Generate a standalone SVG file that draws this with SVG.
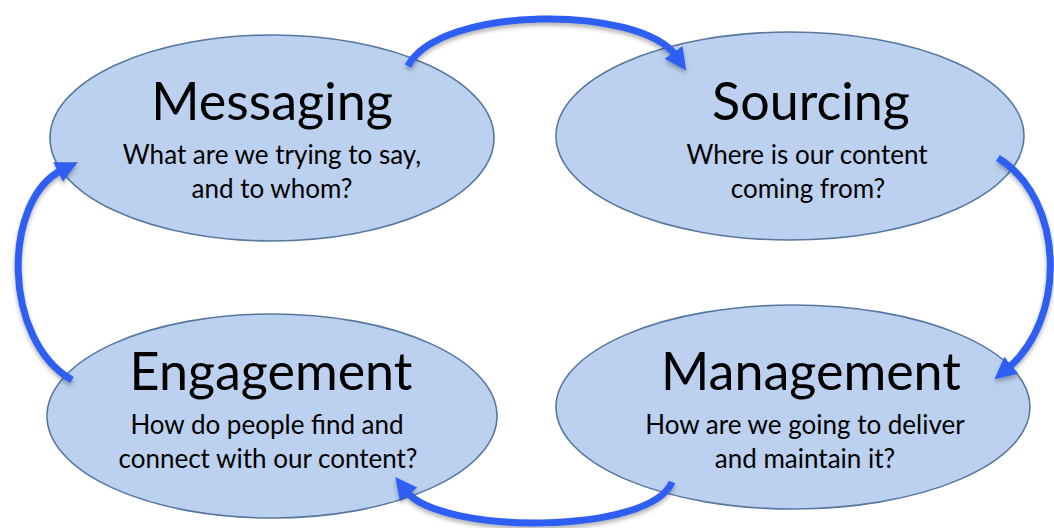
<svg xmlns="http://www.w3.org/2000/svg" width="1054" height="528" viewBox="0 0 1054 528">
  <style>
    .bubble { fill: #bcd1ef; stroke: #5877a0; stroke-width: 1.6; }
    .title { font-family: "Lato", "Liberation Sans", sans-serif; font-size: 52px; fill: #000; text-anchor: middle; }
    .sub { font-family: "Lato", "Liberation Sans", sans-serif; font-size: 26px; fill: #000; text-anchor: middle; }
    .flow { fill: none; stroke: #2f5ef2; stroke-width: 7; stroke-linecap: butt; }
  </style>
  <defs>
    <marker id="head" viewBox="0 0 10 10" refX="2" refY="5" markerWidth="22" markerHeight="22" markerUnits="userSpaceOnUse" orient="auto">
      <path d="M0,0 L10,5 L0,10 z" fill="#2f5ef2"/>
    </marker>
    <filter id="shadow" x="-20%" y="-20%" width="140%" height="140%">
      <feDropShadow dx="0" dy="3" stdDeviation="2" flood-color="#000" flood-opacity="0.3"/>
    </filter>
  </defs>

  <rect width="1054" height="528" fill="#ffffff"/>

  <g id="messaging">
    <ellipse class="bubble" cx="272" cy="138" rx="222" ry="103"/>
    <text class="title" x="272" y="120">Messaging</text>
    <text class="sub" x="272" y="164">What are we trying to say,</text>
    <text class="sub" x="272" y="198">and to whom?</text>
  </g>

  <g id="sourcing">
    <ellipse class="bubble" cx="790" cy="136" rx="234" ry="104"/>
    <text class="title" x="811" y="120">Sourcing</text>
    <text class="sub" x="807" y="164">Where is our content</text>
    <text class="sub" x="808" y="198">coming from?</text>
  </g>

  <g id="engagement">
    <ellipse class="bubble" cx="272" cy="416" rx="225" ry="102"/>
    <text class="title" x="271" y="390">Engagement</text>
    <text class="sub" x="267" y="434">How do people find and</text>
    <text class="sub" x="268" y="468">connect with our content?</text>
  </g>

  <g id="management">
    <ellipse class="bubble" cx="793" cy="407" rx="237" ry="102"/>
    <text class="title" x="811" y="390">Management</text>
    <text class="sub" x="805" y="434">How are we going to deliver</text>
    <text class="sub" x="805" y="468">and maintain it?</text>
  </g>

  <g id="connectors" filter="url(#shadow)">
    <path class="flow" d="M408,66 C440,5 640,5 676,56" marker-end="url(#head)"/>
    <path class="flow" d="M998,158 C1066,200 1066,320 1008,368" marker-end="url(#head)"/>
    <path class="flow" d="M672,482 C650,535 440,535 406,491" marker-end="url(#head)"/>
    <path class="flow" d="M72,380 C2,340 2,200 62,170" marker-end="url(#head)"/>
  </g>
</svg>
